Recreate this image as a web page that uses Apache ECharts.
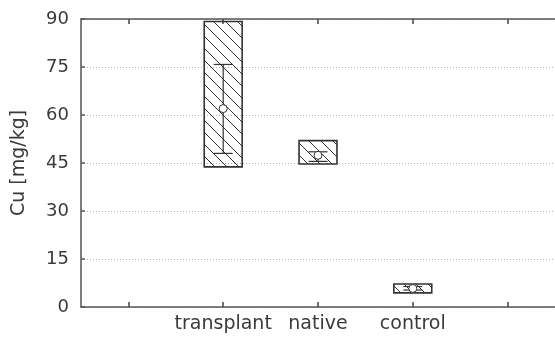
<!DOCTYPE html>
<html><head><meta charset="utf-8">
<script src="https://cdn.jsdelivr.net/npm/echarts@6/dist/echarts.min.js"></script>
<style>html,body{margin:0;padding:0;background:#fff}#c{width:555px;height:349px}</style>
</head><body><div id="c"></div>
<script>
const categories = ['', 'transplant', 'native', 'control', ''];
const groupIndex = [1, 2, 3];
const boxLow   = [43.8, 44.7, 4.4];
const boxHigh  = [89.2, 52.0, 7.2];
const whiskLow = [48.0, 45.5, 5.3];
const whiskHigh= [75.8, 48.5, 6.4];
const means    = [62.0, 47.4, 5.8];
const yTicks = [0, 15, 30, 45, 60, 75, 90];

const FONT = 'DejaVu Sans';
const INK = '#3a3a3a';

const pc = document.createElement('canvas');
pc.width = 12; pc.height = 12;
const g = pc.getContext('2d');
g.strokeStyle = '#333'; g.lineWidth = 1;
g.beginPath();
g.moveTo(-1, -1); g.lineTo(13, 13);
g.moveTo(-13, -1); g.lineTo(1, 13);
g.moveTo(11, -1); g.lineTo(25, 13);
g.stroke();
const hatch = { image: pc, repeat: 'repeat' };

const data = groupIndex.map((c, i) => [c, boxLow[i], boxHigh[i], whiskLow[i], whiskHigh[i], means[i]]);

const tickStyle = { show: true, alignWithLabel: true, inside: true, length: 5, interval: 0, lineStyle: { color: '#444', width: 1.5 } };

const chart = echarts.init(document.getElementById('c'), null, { renderer: 'canvas' });
chart.setOption({
  animation: false,
  grid: { left: 81, top: 19, bottom: 42, right: -5 },
  xAxis: [{
    type: 'category', data: categories, boundaryGap: true,
    axisLine: { show: true, lineStyle: { color: '#555', width: 1.5 } },
    axisTick: tickStyle,
    axisLabel: { interval: 0, color: INK, fontFamily: FONT, fontSize: 19, margin: 8 },
    splitLine: { show: false }
  }, {
    type: 'category', data: categories, position: 'top', boundaryGap: true,
    axisLine: { show: true, lineStyle: { color: '#555', width: 1.5 } },
    axisTick: tickStyle,
    axisLabel: { show: false }
  }],
  yAxis: {
    type: 'value', min: yTicks[0], max: yTicks[yTicks.length - 1], interval: 15,
    name: 'Cu [mg/kg]', nameLocation: 'middle', nameGap: 52, nameRotate: 90,
    nameTextStyle: { color: INK, fontFamily: FONT, fontSize: 19 },
    axisLine: { show: true, lineStyle: { color: '#555', width: 1.5 } },
    axisTick: { show: true, inside: true, length: 4, lineStyle: { color: '#555', width: 1.5 } },
    axisLabel: { color: INK, fontFamily: FONT, fontSize: 18, margin: 12 },
    splitLine: { show: true, lineStyle: { color: '#b0b0b0', type: [1, 2], width: 1 } }
  },
  series: [{
    type: 'custom',
    data: data,
    z: 3,
    renderItem: function (params, api) {
      const x = api.value(0);
      const band = api.size([1, 0])[0];
      const bw = band * 0.4;
      const cw = band * 0.2;
      const pLo = api.coord([x, api.value(1)]);
      const pHi = api.coord([x, api.value(2)]);
      const wLo = api.coord([x, api.value(3)]);
      const wHi = api.coord([x, api.value(4)]);
      const m = api.coord([x, api.value(5)]);
      const cx = pLo[0];
      const lineStyle = { stroke: '#333', lineWidth: 1.2 };
      return {
        type: 'group',
        children: [
          { type: 'rect', shape: { x: cx - bw / 2, y: pHi[1], width: bw, height: pLo[1] - pHi[1] },
            style: { fill: hatch, stroke: '#333', lineWidth: 1.6 } },
          { type: 'line', shape: { x1: cx, y1: wLo[1], x2: cx, y2: wHi[1] }, style: lineStyle },
          { type: 'line', shape: { x1: cx - cw / 2, y1: wHi[1], x2: cx + cw / 2, y2: wHi[1] }, style: lineStyle },
          { type: 'line', shape: { x1: cx - cw / 2, y1: wLo[1], x2: cx + cw / 2, y2: wLo[1] }, style: lineStyle },
          { type: 'circle', shape: { cx: cx, cy: m[1], r: 4 }, style: { fill: '#fff', stroke: '#333', lineWidth: 1 } }
        ]
      };
    }
  }]
});
</script></body></html>
